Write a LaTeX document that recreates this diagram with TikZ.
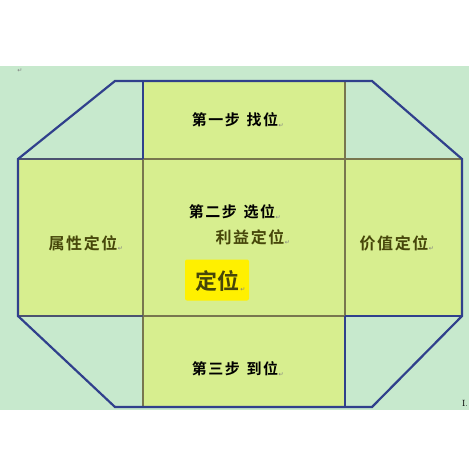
\documentclass[tikz,border=0pt]{standalone}
\usepackage{fontspec}
\newfontfamily\cjk{Noto Sans CJK SC}[BoldFont={Noto Sans CJK SC Bold}]
\newfontfamily\cjksp{Noto Sans CJK SC}[BoldFont={Noto Sans CJK SC Bold},LetterSpace=10]
\newfontfamily\dv{DejaVu Sans}
\definecolor{bggreen}{RGB}{199,233,205}
\definecolor{cellfill}{RGB}{215,238,143}
\definecolor{edgeblue}{RGB}{48,64,140}
\definecolor{olive}{RGB}{120,118,78}
\definecolor{slate}{RGB}{75,82,112}
\definecolor{txtolive}{RGB}{70,70,10}
\definecolor{hlyellow}{RGB}{255,240,0}
\tikzset{
  edge/.style={draw=edgeblue,line width=2.2pt,line join=miter},
  inner/.style={draw=olive,line width=2pt},
  innerslate/.style={draw=slate,line width=2pt},
  lbl/.style={font=\cjksp\bfseries\fontsize{15}{17}\selectfont,inner sep=0pt},
  sidelbl/.style={font=\cjksp\bfseries\fontsize{16}{18}\selectfont,text=txtolive,inner sep=0pt},
  ret/.style={font=\dv\fontsize{6}{6}\selectfont,text=gray,inner sep=0pt}
}
\begin{document}
\begin{tikzpicture}[x=1pt,y=-1pt]
\useasboundingbox (0,0) rectangle (469,471);
\fill[white] (0,0) rectangle (469,471);
\fill[bggreen] (0,66) rectangle (469,410);
% cross-shaped fill
\fill[cellfill] (143,81) -- (345,81) -- (345,159) -- (462,159) -- (462,316) -- (345,316) -- (345,407) -- (143,407) -- (143,316) -- (18,316) -- (18,159) -- (143,159) -- cycle;
% named corner coordinates
\coordinate (tl) at (115,81);
\coordinate (tr) at (372,81);
\coordinate (rt) at (462,159);
\coordinate (rb) at (462,316);
\coordinate (br) at (372,407);
\coordinate (bl) at (115,407);
\coordinate (lb) at (18,316);
\coordinate (lt) at (18,159);
\coordinate (a1) at (143,81);
\coordinate (a2) at (143,159);
\coordinate (a3) at (143,316);
\coordinate (a4) at (143,407);
\coordinate (b1) at (345,81);
\coordinate (b2) at (345,159);
\coordinate (b3) at (345,316);
\coordinate (b4) at (345,407);
% inner lines
\draw[inner] (a2) -- (a4);
\draw[inner] (b1) -- (b3);
\draw[inner] (a2) -- (rt);
\draw[innerslate] (lt) -- (a2);
\draw[inner] (a3) -- (b3);
\draw[innerslate] (lb) -- (a3);
\draw[edge] (a1) -- (a2);
\draw[edge] (b3) -- (b4);
\draw[edge] (b3) -- (rb);
% outer octagon
\draw[edge] (tl) -- (tr) -- (rt) -- (rb) -- (br) -- (bl) -- (lb) -- (lt) -- cycle;
% highlight box
\node[fill=hlyellow,rounded corners=2pt,minimum width=64pt,minimum height=41pt,inner sep=0pt] (hl) at (217,280) {};
% labels
\node[lbl] (s1) at (235,120) {第一步\hspace{7pt}找位};
\node[ret,anchor=south west] (r1) at (s1.south east) {↵};
\node[lbl] (s2) at (232,212) {第二步\hspace{7pt}选位};
\node[ret,anchor=south west] (r2) at (s2.south east) {↵};
\node[sidelbl] (s2b) at (250,237) {利益定位};
\node[ret,anchor=south west] (r2b) at (s2b.south east) {↵};
\node[sidelbl,font=\cjk\bfseries\fontsize{22}{24}\selectfont] (dw) at (217,281) {定位};
\node[ret,anchor=south west] (r3) at ([xshift=1pt]dw.south east) {↵};
\node[sidelbl] (sx) at (83,243) {属性定位};
\node[ret,anchor=south west] (r4) at (sx.south east) {↵};
\node[sidelbl] (jz) at (394,243) {价值定位};
\node[ret,anchor=south west] (r5) at (jz.south east) {↵};
\node[lbl] (s3) at (235,369) {第三步\hspace{7pt}到位};
\node[ret,anchor=south west] (r6) at (s3.south east) {↵};
\node[ret] (r0) at (20,71) {↵};
\node[font=\fontsize{9}{9}\selectfont,inner sep=0pt] (ii) at (465,403) {I.};
\end{tikzpicture}
\end{document}
